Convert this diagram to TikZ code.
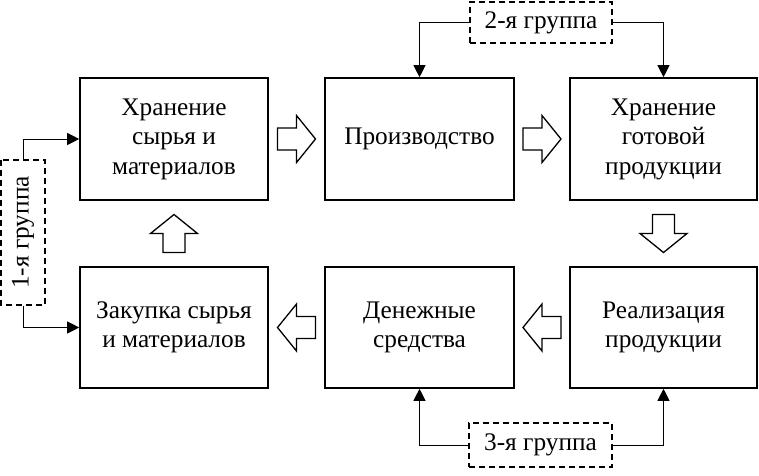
\documentclass[tikz,border=0pt]{standalone}
\usepackage{fontspec}
\setmainfont{Liberation Serif}
\usetikzlibrary{arrows.meta,calc}
\tikzset{
  procbox/.style={draw, line width=1.6pt, minimum width=188pt, minimum height=122pt, align=center, inner sep=0pt, font=\fontsize{25.3}{29.5}\selectfont},
  grpbox/.style={draw, dashed, line width=1.6pt, dash pattern=on 6pt off 4pt, inner sep=0pt, font=\fontsize{25.3}{29.5}\selectfont},
  link/.style={line width=0.8pt, -{Triangle[length=12pt,width=12pt]}},
  barrow/.pic={\draw[line width=1.3pt, fill=white] (-19,-11) -- (0,-11) -- (0,-23.5) -- (19,0) -- (0,23.5) -- (0,11) -- (-19,11) -- cycle;}
}
\begin{document}
\begin{tikzpicture}[x=1pt,y=1pt]
\useasboundingbox (0,0) rectangle (759,475);
\node[procbox] (b1) at (174,336) {Хранение\\сырья и\\материалов};
\node[procbox, minimum width=189pt] (b2) at (419.5,336) {Производство};
\node[procbox, minimum width=187pt] (b3) at (663.5,336) {Хранение\\готовой\\продукции};
\node[procbox, minimum height=121pt] (b4) at (174,147.5) {Закупка сырья\\и материалов};
\node[procbox, minimum width=189pt, minimum height=121pt] (b5) at (419.5,147.5) {Денежные\\средства};
\node[procbox, minimum width=187pt, minimum height=121pt] (b6) at (663.5,147.5) {Реализация\\продукции};

\node[grpbox, minimum width=142pt, minimum height=41pt] (g2) at (541,452.5) {2-я группа};
\node[grpbox, minimum width=143pt, minimum height=44pt] (g3) at (540.5,30) {3-я группа};
\node[grpbox, minimum width=145pt, minimum height=44pt, rotate=90] (g1) at (23,242.5) {1-я группа};

\draw[link] (g2.west) -| (b2.north);
\draw[link] (g2.east) -| (b3.north);
\draw[link] (g3.west) -| (b5.south);
\draw[link] (g3.east) -| (b6.south);
\draw[link] (g1.east) |- (b1.west);
\draw[link] (g1.west) |- (b4.west);

\pic at ($(b1.east)!0.5!(b2.west)$) {barrow};
\pic at ($(b2.east)!0.5!(b3.west)$) {barrow};
\pic[rotate=-90] at ($(b3.south)!0.5!(b6.north)$) {barrow};
\pic[rotate=180] at ($(b6.west)!0.5!(b5.east)$) {barrow};
\pic[rotate=180] at ($(b5.west)!0.5!(b4.east)$) {barrow};
\pic[rotate=90] at ($(b4.north)!0.5!(b1.south)$) {barrow};
\end{tikzpicture}
\end{document}
